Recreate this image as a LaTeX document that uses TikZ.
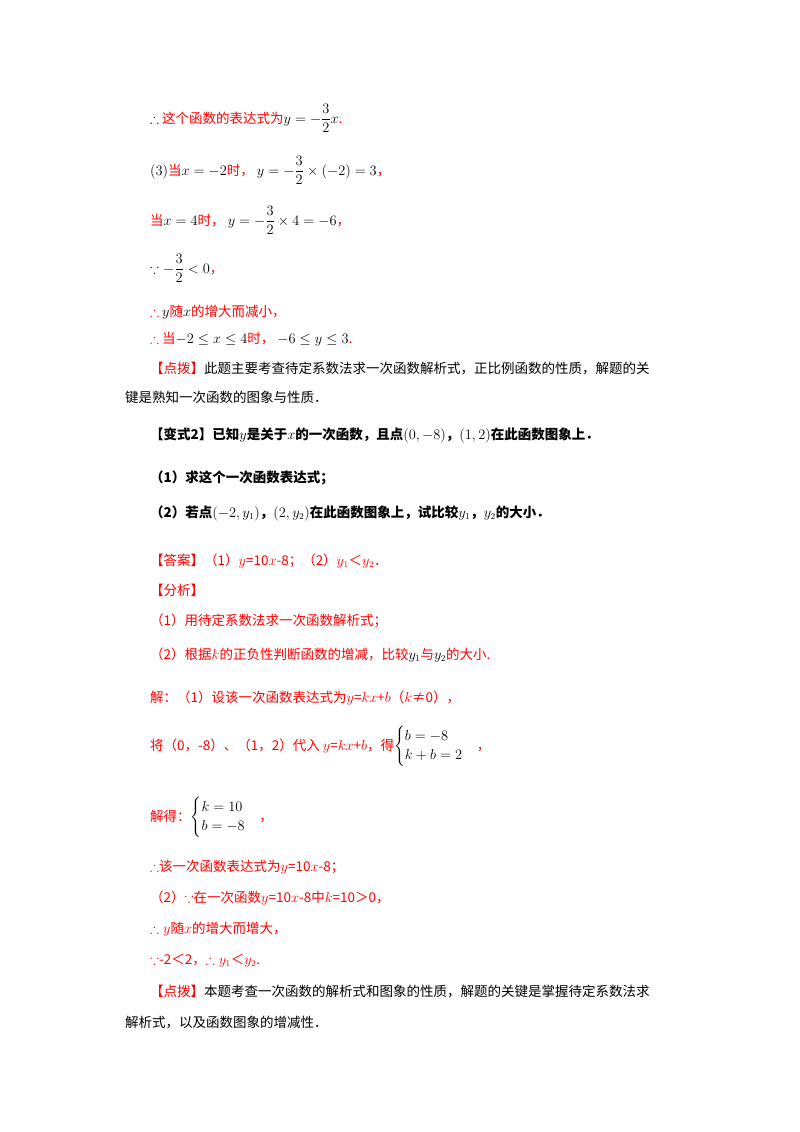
\documentclass[tikz,border=0pt]{standalone}
\usepackage{amsmath,amssymb}
\usepackage{fontspec}
\setmainfont{Liberation Serif}
\newfontfamily\cjk{Noto Sans CJK SC}
\newcommand\R[1]{\textcolor{red}{#1}}
\begin{document}
\begin{tikzpicture}[x=1pt,y=-1pt,
  t/.style={anchor=base west,inner sep=0pt,font=\cjk\fontsize{13.5}{16}\selectfont},
  tb/.style={t,font=\cjk\bfseries\fontsize{13.5}{16}\selectfont}]
\useasboundingbox[fill=white] (0,0) rectangle (800,1132);
\node[t] (l1) at (150,123) {$\therefore$ \R{这个函数的表达式为}$y=-\dfrac{3}{2}x$\R{.}};
\node[t] (l2) at (150,175) {$(3)$\R{当}$x=-2$\R{时，} $y=-\dfrac{3}{2}\times(-2)=3$\R{，}};
\node[t] (l3) at (150,225) {\R{当}$x=4$\R{时，} $y=-\dfrac{3}{2}\times4=-6$\R{，}};
\node[t] (l4) at (150,273) {$\because -\dfrac{3}{2}<0$\R{，}};
\node[t] (l5) at (150,316) {\R{$\therefore$} $y$\R{随}$x$\R{的增大而减小，}};
\node[t] (l6) at (150,343) {\R{$\therefore$ 当}$-2\le x\le4$\R{时，} $-6\le y\le3$\R{.}};
\node[t] (l7) at (150,373) {\R{【点拨】}此题主要考查待定系数法求一次函数解析式，正比例函数的性质，解题的关};
\node[t] (l8) at (125,402) {键是熟知一次函数的图象与性质．};
\node[tb] (l9) at (150,439) {【变式2】已知$y$是关于$x$的一次函数，且点$(0,-8)$，$(1,2)$在此函数图象上．};
\node[tb] (l10) at (150,482) {（1）求这个一次函数表达式；};
\node[tb] (l11) at (150,517) {（2）若点$(-2,y_1)$，$(2,y_2)$在此函数图象上，试比较$y_1$，$y_2$的大小．};
\node[t] (l12) at (150,565) {\R{【答案】（1）$y$=10$x$-8；（2）$y_1$＜$y_2$．}};
\node[t] (l13) at (150,595) {\R{【分析】}};
\node[t] (l14) at (150,625) {\R{（1）用待定系数法求一次函数解析式；}};
\node[t] (l15) at (150,659) {\R{（2）根据$k$的正负性判断函数的增减，比较}$y_1$\R{与}$y_2$\R{的大小.}};
\node[t] (l16) at (150,702) {\R{解：（1）设该一次函数表达式为$y$=$kx$+$b$（$k$≠0），}};
\node[t] (l17) at (150,750) {\R{将（0，-8）、（1，2）代入 $y$=$kx$+$b$，得}$\begin{cases}b=-8\\k+b=2\end{cases}$\R{，}};
\node[t] (l18) at (150,821) {\R{解得：}$\begin{cases}k=10\\b=-8\end{cases}$\R{，}};
\node[t] (l19) at (150,871) {\R{$\therefore$该一次函数表达式为$y$=10$x$-8；}};
\node[t] (l20) at (150,902) {\R{（2）$\because$在一次函数$y$=10$x$-8中$k$=10＞0，}};
\node[t] (l21) at (150,933) {\R{$\therefore y$随$x$的增大而增大，}};
\node[t] (l22) at (150,964) {\R{$\because$-2＜2，$\therefore y_1$＜$y_2$.}};
\node[t] (l23) at (150,996) {\R{【点拨】}本题考查一次函数的解析式和图象的性质，解题的关键是掌握待定系数法求};
\node[t] (l24) at (125,1027) {解析式，以及函数图象的增减性．};
\end{tikzpicture}
\end{document}
